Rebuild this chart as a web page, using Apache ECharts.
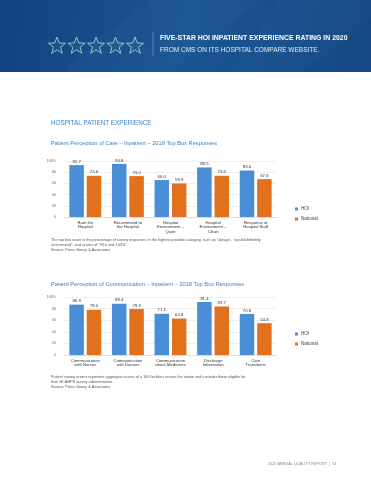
<!DOCTYPE html>
<html><head><meta charset="utf-8">
<script src="https://cdn.jsdelivr.net/npm/echarts@6/dist/echarts.min.js"></script>
<style>html,body{margin:0;padding:0;background:#fff}#c{width:371px;height:480px}</style>
</head><body><div id="c"></div>
<script>
// ---- data ----
var careCategories = ['Rate the\nHospital', 'Recommend to\nthe Hospital', 'Hospital\nEnvironment –\nQuiet', 'Hospital\nEnvironment –\nClean', 'Response of\nHospital Staff'];
var careHOI = [92.7, 94.8, 66.0, 88.5, 83.0];
var careNational = [73.6, 73.0, 59.9, 73.6, 67.6];
var commCategories = ['Communication\nwith Nurses', 'Communication\nwith Doctors', 'Communication\nabout Medicines', 'Discharge\nInformation', 'Care\nTransitions'];
var commHOI = [86.9, 88.4, 71.1, 91.4, 70.8];
var commNational = [78.0, 79.3, 62.8, 83.7, 54.8];
var yTicks = [0, 20, 40, 60, 80, 100];
var seriesNames = ['HOI', 'National'];

var BLUE = '#4a8fd6', ORANGE = '#e2711d', TITLE = '#3b82c6', FONT = 'Liberation Sans, Arial, sans-serif';

function starPoints(cx, cy, R, r) {
  var pts = [];
  for (var i = 0; i < 10; i++) {
    var a = -Math.PI / 2 + i * Math.PI / 5;
    var rad = i % 2 === 0 ? R : r;
    pts.push([cx + rad * Math.cos(a), cy + rad * Math.sin(a)]);
  }
  return pts;
}
var graphics = [
  {type: 'rect', shape: {x: 0, y: 0, width: 371, height: 72}, z: 0,
   style: {fill: new echarts.graphic.LinearGradient(0, 0, 1, 1, [
     {offset: 0, color: '#10437f'}, {offset: 0.5, color: '#1a5593'}, {offset: 1, color: '#134882'}])}},
  {type: 'polygon', shape: {points: [[150, 0], [260, 0], [170, 72], [60, 72]]}, z: 1, style: {fill: 'rgba(255,255,255,0.02)'}},
  {type: 'polygon', shape: {points: [[280, 0], [371, 0], [371, 20], [300, 72], [230, 72]]}, z: 1, style: {fill: 'rgba(255,255,255,0.02)'}},
  {type: 'line', shape: {x1: 153, y1: 32, x2: 153, y2: 56}, z: 2, style: {stroke: 'rgba(255,255,255,0.35)', lineWidth: 0.8}},
  {type: 'text', left: 160, top: 34.5, z: 2, style: {text: 'FIVE-STAR HOI INPATIENT EXPERIENCE RATING IN 2020', fill: '#ffffff', font: 'bold 6.9px ' + FONT}},
  {type: 'text', left: 160, top: 46.5, z: 2, style: {text: 'FROM CMS ON ITS HOSPITAL COMPARE WEBSITE.', fill: '#e8eef6', font: '6.5px ' + FONT}},
  {type: 'text', left: 51, top: 120, style: {text: 'HOSPITAL PATIENT EXPERIENCE', fill: TITLE, font: '6.3px ' + FONT}},
  {type: 'text', left: 51, top: 140.5, style: {text: 'Patient Perception of Care – Inpatient – 2018 Top Box Responses', fill: TITLE, font: '5.7px ' + FONT}},
  {type: 'text', left: 51, top: 281.5, style: {text: 'Patient Perception of Communication – Inpatient – 2018 Top Box Responses', fill: TITLE, font: '5.7px ' + FONT}},
  {type: 'text', left: 51, top: 238, style: {text: 'The top box score is the percentage of survey responses in the highest possible category, such as "always", "would definitely\nrecommend", and scores of "9/10 and 10/10".\nSource: Press Ganey & Associates', fill: '#555', font: '3.8px ' + FONT, lineHeight: 4.8}},
  {type: 'text', left: 51, top: 374.5, style: {text: 'Patient survey scores represent aggregate scores of a 100 facilities across the nation and consider those eligible for\ntheir HCAHPS survey administration.\nSource: Press Ganey & Associates', fill: '#555', font: '3.8px ' + FONT, lineHeight: 4.8}},
  {type: 'text', left: 268, top: 462, style: {text: '2020 ANNUAL QUALITY REPORT  |  14', fill: '#888', font: '3.8px ' + FONT}}
];
for (var s = 0; s < 5; s++) {
  graphics.push({type: 'polygon', z: 2, shape: {points: starPoints(57 + s * 19.5, 46, 9, 3.8)},
    style: {fill: 'rgba(120,200,180,0.08)', stroke: '#9fd3c4', lineWidth: 0.9}});
}

function xAxis(gi, cats) {
  return {type: 'category', gridIndex: gi, data: cats,
    axisLine: {lineStyle: {color: '#cfcfcf', width: 0.6}}, axisTick: {show: false},
    axisLabel: {fontSize: 4.2, color: '#333', fontFamily: FONT, lineHeight: 4.8, margin: 3, interval: 0}};
}
function yAxis(gi) {
  return {type: 'value', gridIndex: gi, min: yTicks[0], max: yTicks[yTicks.length - 1], interval: yTicks[1] - yTicks[0],
    axisLine: {show: false}, axisTick: {show: false},
    splitLine: {lineStyle: {color: '#e4e4e4', width: 0.6}},
    axisLabel: {fontSize: 3.6, color: '#666', fontFamily: FONT, margin: 8,
      formatter: function (v) { return v === 100 ? '100%' : String(v); }}};
}
function bar(name, gi, data, color) {
  return {type: 'bar', name: name, xAxisIndex: gi, yAxisIndex: gi, data: data,
    barWidth: 14.5, barGap: '20%', itemStyle: {color: color},
    label: {show: true, position: 'top', distance: 1.5, fontSize: 4.3, color: '#333', fontFamily: FONT,
      formatter: function (p) { return p.value.toFixed(1); }}};
}
function legend(top) {
  return {data: seriesNames, orient: 'vertical', left: 295, top: top, itemWidth: 3, itemHeight: 3, itemGap: 5,
    icon: 'rect', padding: 0, textStyle: {fontSize: 4.6, color: '#444', fontFamily: FONT, padding: [0, 0, 0, -2]}};
}

var chart = echarts.init(document.getElementById('c'), null, {renderer: 'canvas'});
chart.setOption({
  animation: false,
  graphic: graphics,
  color: [BLUE, ORANGE],
  legend: [legend(206.5), legend(331.5)],
  grid: [
    {left: 64, right: 94, top: 161, height: 56},
    {left: 64, right: 94, top: 297, height: 58}
  ],
  xAxis: [xAxis(0, careCategories), xAxis(1, commCategories)],
  yAxis: [yAxis(0), yAxis(1)],
  series: [
    bar(seriesNames[0], 0, careHOI, BLUE), bar(seriesNames[1], 0, careNational, ORANGE),
    bar(seriesNames[0], 1, commHOI, BLUE), bar(seriesNames[1], 1, commNational, ORANGE)
  ]
});
</script></body></html>
